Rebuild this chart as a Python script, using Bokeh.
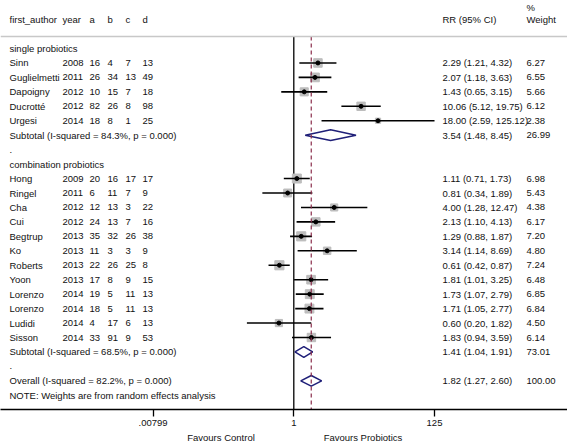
from bokeh.plotting import figure
from bokeh.models import ColumnDataSource, Range1d, FixedTicker, LogAxis, Span
from bokeh.core.properties import value
from bokeh.embed import file_html
from bokeh.resources import INLINE

# ---------------- data ----------------
g1_author = ["Sinn", "Guglielmetti", "Dapoigny", "Ducrotté", "Urgesi"]
g1_year = [2008, 2011, 2012, 2012, 2014]
g1_a = [16, 26, 10, 82, 18]
g1_b = [4, 34, 15, 26, 8]
g1_c = [7, 13, 7, 8, 1]
g1_d = [13, 49, 18, 98, 25]
g1_rr = [2.29, 2.07, 1.43, 10.06, 18.00]
g1_lo = [1.21, 1.18, 0.65, 5.12, 2.59]
g1_hi = [4.32, 3.63, 3.15, 19.75, 125.12]
g1_wt = [6.27, 6.55, 5.66, 6.12, 2.38]

g2_author = ["Hong", "Ringel", "Cha", "Cui", "Begtrup", "Ko", "Roberts",
             "Yoon", "Lorenzo", "Lorenzo", "Ludidi", "Sisson"]
g2_year = [2009, 2011, 2012, 2012, 2013, 2013, 2013, 2013, 2014, 2014, 2014, 2014]
g2_a = [20, 6, 12, 24, 35, 11, 22, 17, 19, 18, 4, 33]
g2_b = [16, 11, 13, 13, 32, 3, 26, 8, 5, 5, 17, 91]
g2_c = [17, 7, 3, 7, 26, 3, 25, 9, 11, 11, 6, 9]
g2_d = [17, 9, 22, 16, 38, 9, 8, 15, 13, 13, 13, 53]
g2_rr = [1.11, 0.81, 4.00, 2.13, 1.29, 3.14, 0.61, 1.81, 1.73, 1.71, 0.60, 1.83]
g2_lo = [0.71, 0.34, 1.28, 1.10, 0.88, 1.14, 0.42, 1.01, 1.07, 1.05, 0.20, 0.94]
g2_hi = [1.73, 1.89, 12.47, 4.13, 1.87, 8.69, 0.87, 3.25, 2.79, 2.77, 1.82, 3.59]
g2_wt = [6.98, 5.43, 4.38, 6.17, 7.20, 4.80, 7.24, 6.48, 6.85, 6.84, 4.50, 6.14]

group_names = ["single probiotics", "combination probiotics"]
sub_labels = ["Subtotal  (I-squared = 84.3%, p = 0.000)",
              "Subtotal  (I-squared = 68.5%, p = 0.000)",
              "Overall  (I-squared = 82.2%, p = 0.000)"]
sub_rr = [3.54, 1.41, 1.82]
sub_lo = [1.48, 1.04, 1.27]
sub_hi = [8.45, 1.91, 2.60]
sub_wt = [26.99, 73.01, 100.00]

header_cols = ["first_author", "year", "a", "b", "c", "d"]
header_rr = "RR (95% CI)"
header_wt = ["%", "Weight"]
note_text = "NOTE: Weights are from random effects analysis"

tick_vals = [0.00799, 1, 125]
tick_labels = [".00799", "1", "125"]
favours_labels = ["Favours Control", "Favours Probiotics"]

# ---------------- layout helpers ----------------
FW, FH = 567, 409
X1 = 293.3      # px of RR = 1
DEC = 67.1      # px per decade
ROW0, ROWH = 48.0, 14.45


def px(refx):
    return 10 ** ((refx - X1) / DEC)


col_ref = [9, 62, 89, 107, 125, 142]
RR_REF, WT_REF = 442, 526
TOP_ROW = -ROW0 / ROWH
AXIS_ROW = (FH - ROW0) / ROWH
LINE_ROW = (36 - ROW0) / ROWH
HEAD_ROW = (19 - ROW0) / ROWH
PCT_ROW = (7 - ROW0) / ROWH
FONT = value("Liberation Sans")
FS = "9.5px"
TXT = "#111111"

# row indices
g1_rows = list(range(1, 1 + len(g1_author)))
sub1_row = g1_rows[-1] + 1
g2_head = sub1_row + 2
g2_rows = list(range(g2_head + 1, g2_head + 1 + len(g2_author)))
sub2_row = g2_rows[-1] + 1
over_row = sub2_row + 2
note_row = over_row + 1
sub_rows = [sub1_row, sub2_row, over_row]

# ---------------- text table ----------------
tx, ty, tt = [], [], []


def add(refx, row, s):
    tx.append(px(refx))
    ty.append(row)
    tt.append(s)


for c, h in zip(col_ref, header_cols):
    add(c, HEAD_ROW, h)
add(RR_REF, HEAD_ROW, header_rr)
add(WT_REF, PCT_ROW, header_wt[0])
add(WT_REF, HEAD_ROW, header_wt[1])

add(col_ref[0], 0, group_names[0])
add(col_ref[0], g2_head, group_names[1])
add(col_ref[0], sub1_row + 1, ".")
add(col_ref[0], sub2_row + 1, ".")
add(col_ref[0], note_row, note_text)

studies = [(g1_rows, g1_author, g1_year, g1_a, g1_b, g1_c, g1_d, g1_rr, g1_lo, g1_hi, g1_wt),
           (g2_rows, g2_author, g2_year, g2_a, g2_b, g2_c, g2_d, g2_rr, g2_lo, g2_hi, g2_wt)]
for rows, au, yr, a, b, c, d, rr, lo, hi, wt in studies:
    for i, r in enumerate(rows):
        for cx, v in zip(col_ref, [au[i], yr[i], a[i], b[i], c[i], d[i]]):
            add(cx, r, str(v))
        add(RR_REF, r, f"{rr[i]:.2f} ({lo[i]:.2f}, {hi[i]:.2f})")
        add(WT_REF, r, f"{wt[i]:.2f}")

for r, lab, rr, lo, hi, wt in zip(sub_rows, sub_labels, sub_rr, sub_lo, sub_hi, sub_wt):
    add(col_ref[0], r, lab)
    add(RR_REF, r, f"{rr:.2f} ({lo:.2f}, {hi:.2f})")
    add(WT_REF, r, f"{wt:.2f}")

# ---------------- figure ----------------
p = figure(frame_width=FW, frame_height=FH, x_axis_type="log",
           x_range=Range1d(10 ** (-X1 / DEC), 10 ** ((FW - X1) / DEC)),
           y_range=Range1d(AXIS_ROW, TOP_ROW),
           y_axis_location=None, output_backend="svg", toolbar_location=None,
           min_border=0, min_border_left=0, min_border_right=0, min_border_top=0,
           min_border_bottom=0,
           outline_line_color=None, background_fill_color="white",
           border_fill_color="white")
p.grid.visible = False

ax = p.xaxis[0]
ax.ticker = FixedTicker(ticks=tick_vals)
ax.major_label_overrides = {v: l for v, l in zip(tick_vals, tick_labels)}
ax.major_tick_out = 7
ax.major_tick_in = 0
ax.minor_tick_line_color = None
ax.axis_line_color = "black"
ax.axis_line_width = 1.3
ax.major_tick_line_width = 1.3
ax.major_label_standoff = 3
ax.major_label_text_font = "Liberation Sans"
ax.major_label_text_font_size = FS
ax.major_label_text_color = TXT

fav_x = [round(px(220.5), 5), round(px(362.5), 5)]
ax2 = LogAxis(ticker=FixedTicker(ticks=fav_x),
              major_label_overrides={v: l for v, l in zip(fav_x, favours_labels)},
              axis_line_color=None, major_tick_line_color=None,
              minor_tick_line_color=None, major_tick_out=0, major_tick_in=0,
              major_label_standoff=3, major_label_text_font="Liberation Sans",
              major_label_text_font_size=FS, major_label_text_color=TXT)
p.add_layout(ax2, "below")

p.add_layout(Span(location=LINE_ROW, dimension="width", line_color="#c8c8c8",
                  line_width=1.5))

# null line
p.segment(x0=[1], y0=[LINE_ROW], x1=[1], y1=[AXIS_ROW], line_color="black",
          line_width=1.3)

# study marks
all_rows = g1_rows + g2_rows
all_rr = g1_rr + g2_rr
all_lo = g1_lo + g2_lo
all_hi = g1_hi + g2_hi
all_wt = g1_wt + g2_wt
src = ColumnDataSource(dict(y=all_rows, rr=all_rr, lo=all_lo, hi=all_hi,
                            size=[3.4 * w ** 0.5 for w in all_wt]))
p.scatter(x="rr", y="y", size="size", marker="square", fill_color="#bdbdbd",
          line_color="#bdbdbd", source=src)
p.segment(x0="lo", y0="y", x1="hi", y1="y", line_color="black", line_width=1.6,
          source=src)
p.scatter(x="rr", y="y", size=4, marker="circle", fill_color="black",
          line_color="black", source=src)

# diamonds
H = 0.37
p.patches(xs=[[lo, rr, hi, rr] for lo, rr, hi in zip(sub_lo, sub_rr, sub_hi)],
          ys=[[r, r - H, r, r + H] for r in sub_rows],
          fill_color="white", line_color="#1f1f78", line_width=1.5)

# overall effect line
p.segment(x0=[sub_rr[2]], y0=[LINE_ROW], x1=[sub_rr[2]], y1=[AXIS_ROW],
          line_color="#8b2d4b", line_width=1.2, line_dash="4 3")

p.text(x=tx, y=ty, text=tt, text_font=FONT, text_font_size=FS,
       text_baseline="middle", text_align="left", text_color=TXT)

open("out.html", "w").write(file_html(p, INLINE))
